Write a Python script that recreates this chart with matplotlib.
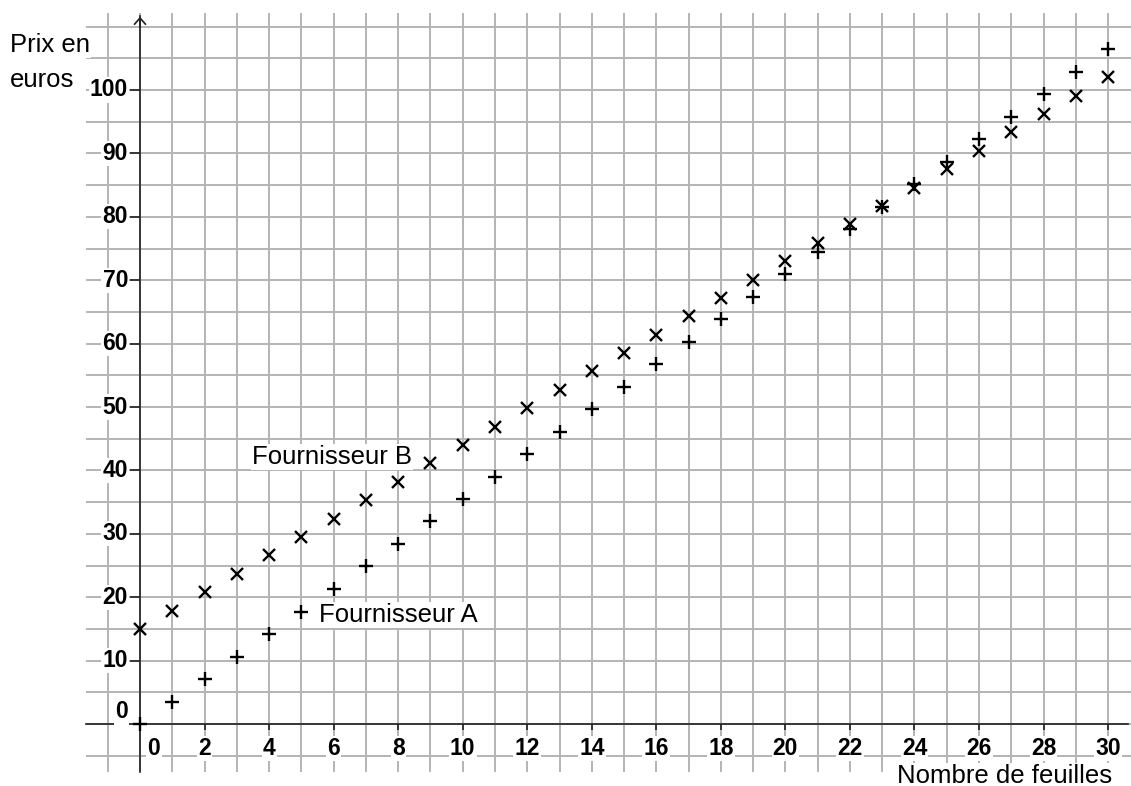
import numpy as np
import matplotlib.pyplot as plt

plt.rcParams['font.family'] = ['Liberation Sans', 'DejaVu Sans']

feuilles = list(range(0, 31))
prix_A = [0, 3.5, 7.1, 10.6, 14.2, 17.7, 21.3, 24.9, 28.4, 32.0, 35.5,
          39.0, 42.6, 46.1, 49.7, 53.2, 56.8, 60.3, 63.9, 67.4, 71.0,
          74.5, 78.1, 81.6, 85.2, 88.7, 92.3, 95.8, 99.4, 102.9, 106.5]
prix_B = [15.0, 17.9, 20.8, 23.7, 26.6, 29.5, 32.4, 35.3, 38.2, 41.1, 44.0,
          46.9, 49.8, 52.7, 55.6, 58.5, 61.4, 64.3, 67.2, 70.1, 73.0,
          75.9, 78.8, 81.7, 84.6, 87.5, 90.4, 93.3, 96.2, 99.1, 102.0]
yticks = [10, 20, 30, 40, 50, 60, 70, 80, 90, 100]
xticks = [2, 4, 6, 8, 10, 12, 14, 16, 18, 20, 22, 24, 26, 28, 30]

# echelle en pixels (origine a (140, 724))
sx = 32.27
sy = 6.34
W, H = 1131, 786


def px(x, y):
    return (x - 140) / sx, (724 - y) / sy


fig = plt.figure(figsize=(W / 100, H / 100), dpi=100)
ax = fig.add_axes([0, 0, 1, 1])
ax.set_xlim(px(0, 0)[0], px(W, 0)[0])
ax.set_ylim(px(0, H)[1], px(0, 0)[1])
ax.axis('off')

grille = '#b4b4b4'
xg0 = px(86, 0)[0]
yg_bas = px(0, 772)[1]
yg_haut = px(0, 13)[1]
ax.hlines(np.arange(-5, 111, 5), xg0, px(W, 0)[0], color=grille, lw=1.4, zorder=1)
ax.vlines(np.arange(-1, 31, 1), yg_bas, yg_haut, color=grille, lw=1.4, zorder=1)

# axes
ax.plot([xg0, px(1128, 0)[0]], [0, 0], color='#222222', lw=1.2, zorder=2)
ax.plot([0, 0], [yg_bas, px(0, 16)[1]], color='#222222', lw=1.2, zorder=2)
ax.annotate('', xy=(0, px(0, 14)[1]), xytext=(0, px(0, 30)[1]),
            arrowprops=dict(arrowstyle='->,head_length=0.45,head_width=0.4', lw=1.2, color='#222222'))
ax.annotate('', xy=(px(1133, 0)[0], 0), xytext=(px(1110, 0)[0], 0),
            arrowprops=dict(arrowstyle='->,head_length=0.45,head_width=0.4', lw=1.2, color='#222222'))

ax.plot(np.zeros(len(yticks)), yticks, ls='none', marker=0, ms=7, mew=1.2, color='#222222', zorder=2)
ax.plot(xticks, np.zeros(len(xticks)), ls='none', marker=3, ms=4, mew=1.2, color='#222222', zorder=2)

boite = dict(boxstyle='square,pad=0.05', fc='white', ec='none')
for v in yticks:
    ax.text(px(128, 0)[0], v, str(v), ha='right', va='center', fontsize=16.5,
            fontweight='bold', bbox=boite, zorder=3)
ax.text(px(128, 0)[0], px(0, 712)[1], '0', ha='right', va='center', fontsize=16.5,
        fontweight='bold', bbox=boite, zorder=3)
for v in xticks:
    ax.text(v, px(0, 737)[1], str(v), ha='center', va='top', fontsize=16.5,
            fontweight='bold', bbox=boite, zorder=3)
ax.text(px(154, 0)[0], px(0, 737)[1], '0', ha='center', va='top', fontsize=16.5,
        fontweight='bold', bbox=boite, zorder=3)

ax.plot(feuilles, prix_A, ls='none', marker='+', ms=10, mew=1.7, color='black', zorder=4)
ax.plot(feuilles, prix_B, ls='none', marker='x', ms=8.5, mew=1.7, color='black', zorder=4)

lab = dict(fontsize=18.5, ha='left', va='baseline', zorder=3,
           bbox=dict(boxstyle='square,pad=0.05', fc='white', ec='none'))
ax.text(*px(10, 52), 'Prix en', **lab)
ax.text(*px(10, 87), 'euros', **lab)
ax.text(*px(252, 464), 'Fournisseur B', **lab)
ax.text(*px(319, 622), 'Fournisseur A', **lab)
ax.text(*px(897, 783), 'Nombre de feuilles', **lab)

fig.savefig('out.png', dpi=100)
